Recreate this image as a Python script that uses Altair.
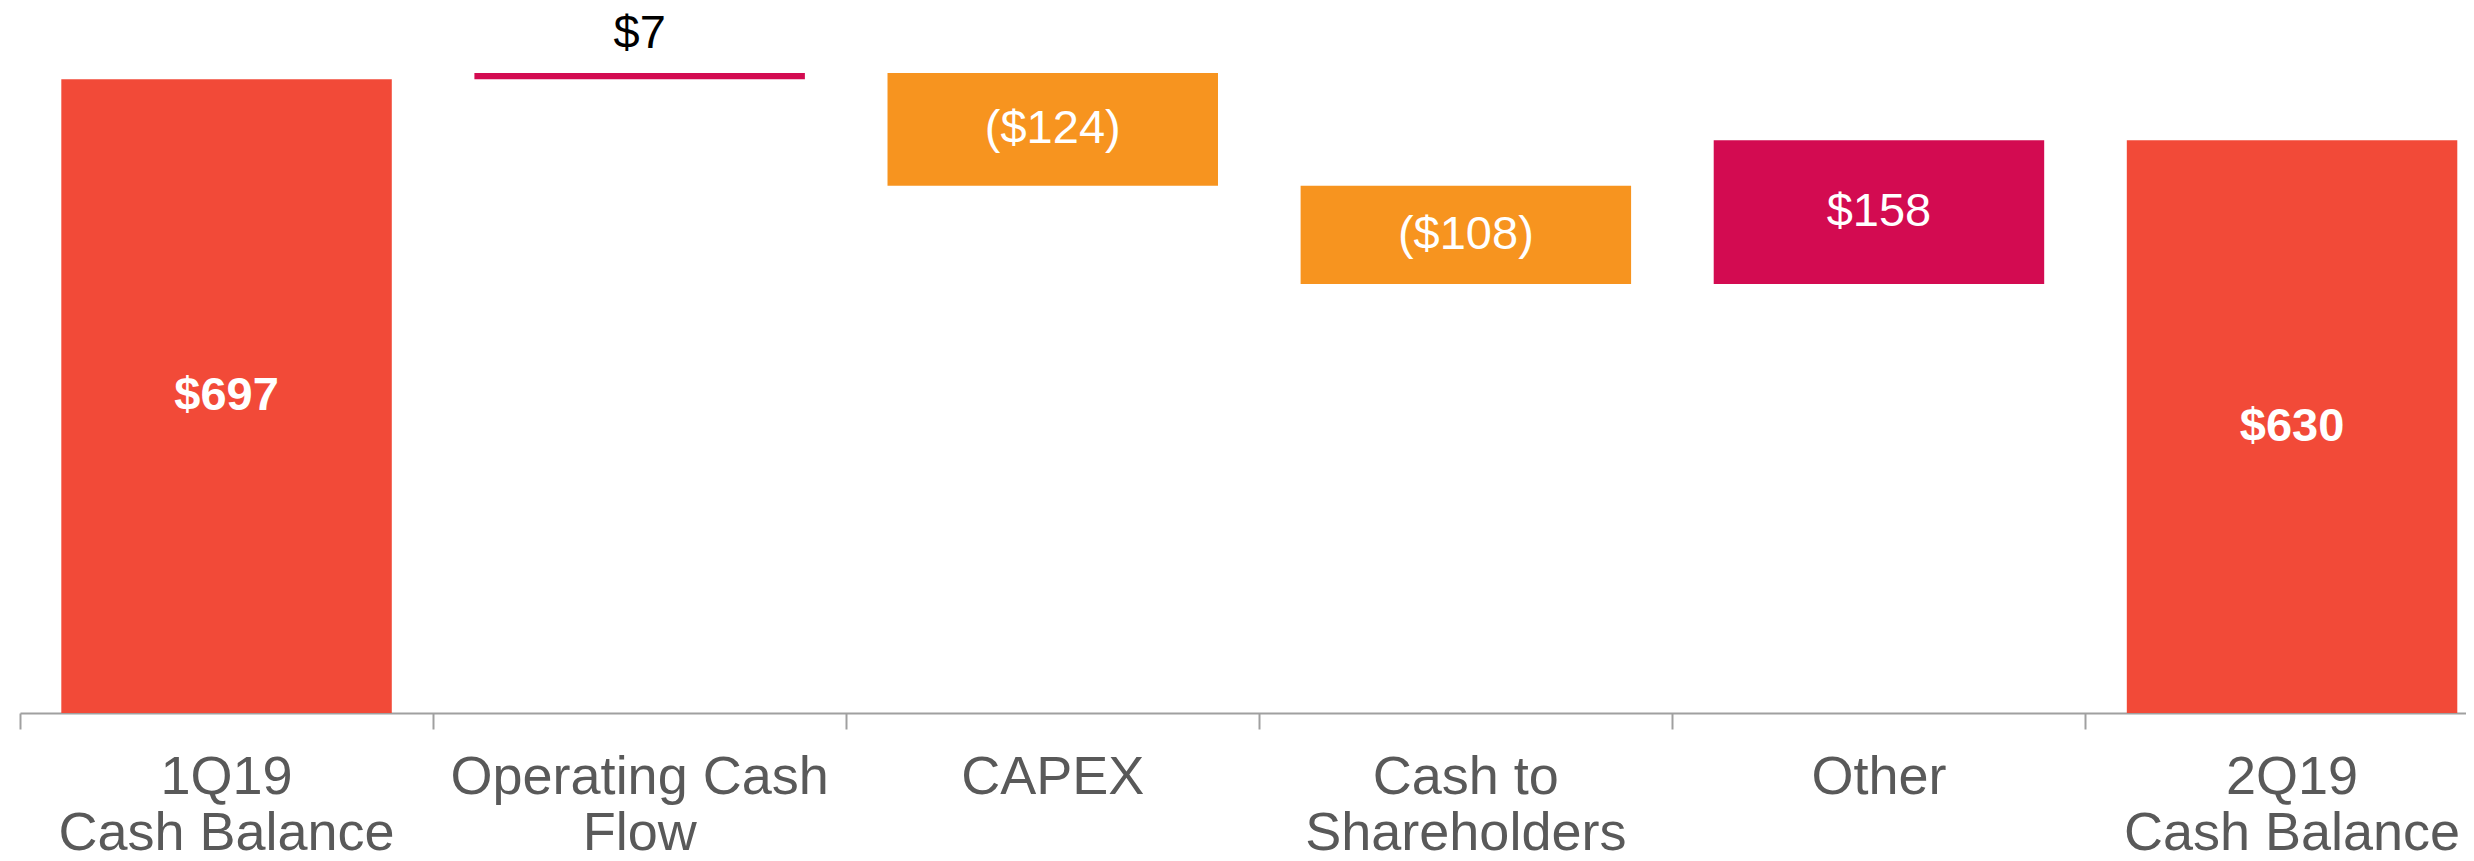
import altair as alt
import pandas as pd

# --- data ---
categories = [
    "1Q19\nCash Balance",
    "Operating Cash\nFlow",
    "CAPEX",
    "Cash to\nShareholders",
    "Other",
    "2Q19\nCash Balance",
]
values = [697, 7, -124, -108, 158, 630]
is_total = [True, False, False, False, False, True]
value_labels = ["$697", "$7", "($124)", "($108)", "$158", "$630"]

# --- build waterfall table ---
starts, ends, kinds = [], [], []
running = 0
for v, t in zip(values, is_total):
    if t:
        starts.append(0)
        ends.append(v)
        running = v
        kinds.append("total")
    else:
        starts.append(running)
        running += v
        ends.append(running)
        kinds.append("increase" if v >= 0 else "decrease")

df = pd.DataFrame({
    "category": categories,
    "value": values,
    "start": starts,
    "end": ends,
    "kind": kinds,
    "label": value_labels,
})
df["mid"] = (df["start"] + df["end"]) / 2
df["top"] = df[["start", "end"]].max(axis=1)

FONT = "Liberation Sans"

x_enc = alt.X(
    "category:N",
    sort=categories,
    title=None,
    scale=alt.Scale(range=[0, 2478.6], paddingInner=0, paddingOuter=0),
    axis=alt.Axis(
        labelAngle=0,
        bandPosition=0,
        labelExpr="split(datum.label, '\\n')",
        labelFont=FONT,
        labelFontSize=54,
        labelLineHeight=56,
        labelLimit=2000,
        labelColor="#595959",
        labelPadding=21,
        labelBaseline="top",
        tickSize=16,
        tickWidth=2,
        tickColor="#A0A0A0",
        domainColor="#A0A0A0",
        domainWidth=2,
        grid=False,
    ),
)
y_scale = alt.Scale(domain=[0, 770], nice=False)

base = alt.Chart(df)

bars = base.mark_bar(width=alt.RelativeBandSize(0.8)).encode(
    x=x_enc,
    y=alt.Y("start:Q", scale=y_scale, axis=None),
    y2="end:Q",
    color=alt.Color(
        "kind:N",
        scale=alt.Scale(
            domain=["total", "increase", "decrease"],
            range=["#F24A38", "#D30B51", "#F7941F"],
        ),
        legend=None,
    ),
)

total_text = base.transform_filter("datum.kind == 'total'").mark_text(
    font=FONT, fontSize=47, fontWeight="bold", color="white", baseline="middle"
).encode(
    x=alt.X("category:N", sort=categories),
    y=alt.Y("mid:Q", scale=y_scale),
    text="label:N",
)

inner_text = base.transform_filter(
    "datum.kind != 'total' && abs(datum.value) >= 20"
).mark_text(
    font=FONT, fontSize=47, color="white", baseline="middle"
).encode(
    x=alt.X("category:N", sort=categories),
    y=alt.Y("mid:Q", scale=y_scale),
    text="label:N",
)

outer_text = base.transform_filter(
    "datum.kind != 'total' && abs(datum.value) < 20"
).mark_text(
    font=FONT, fontSize=47, color="black", baseline="middle", dy=-39
).encode(
    x=alt.X("category:N", sort=categories),
    y=alt.Y("top:Q", scale=y_scale),
    text="label:N",
)

chart = alt.layer(bars, total_text, inner_text, outer_text).properties(
    width=2446,
    height=700,
    autosize=alt.AutoSizeParams(type="none"),
    padding={"left": 12, "top": 5, "right": 0, "bottom": 140},
    background="white",
).configure_view(stroke=None)

chart.save("out.html", embed_options={"renderer": "svg", "actions": False})
